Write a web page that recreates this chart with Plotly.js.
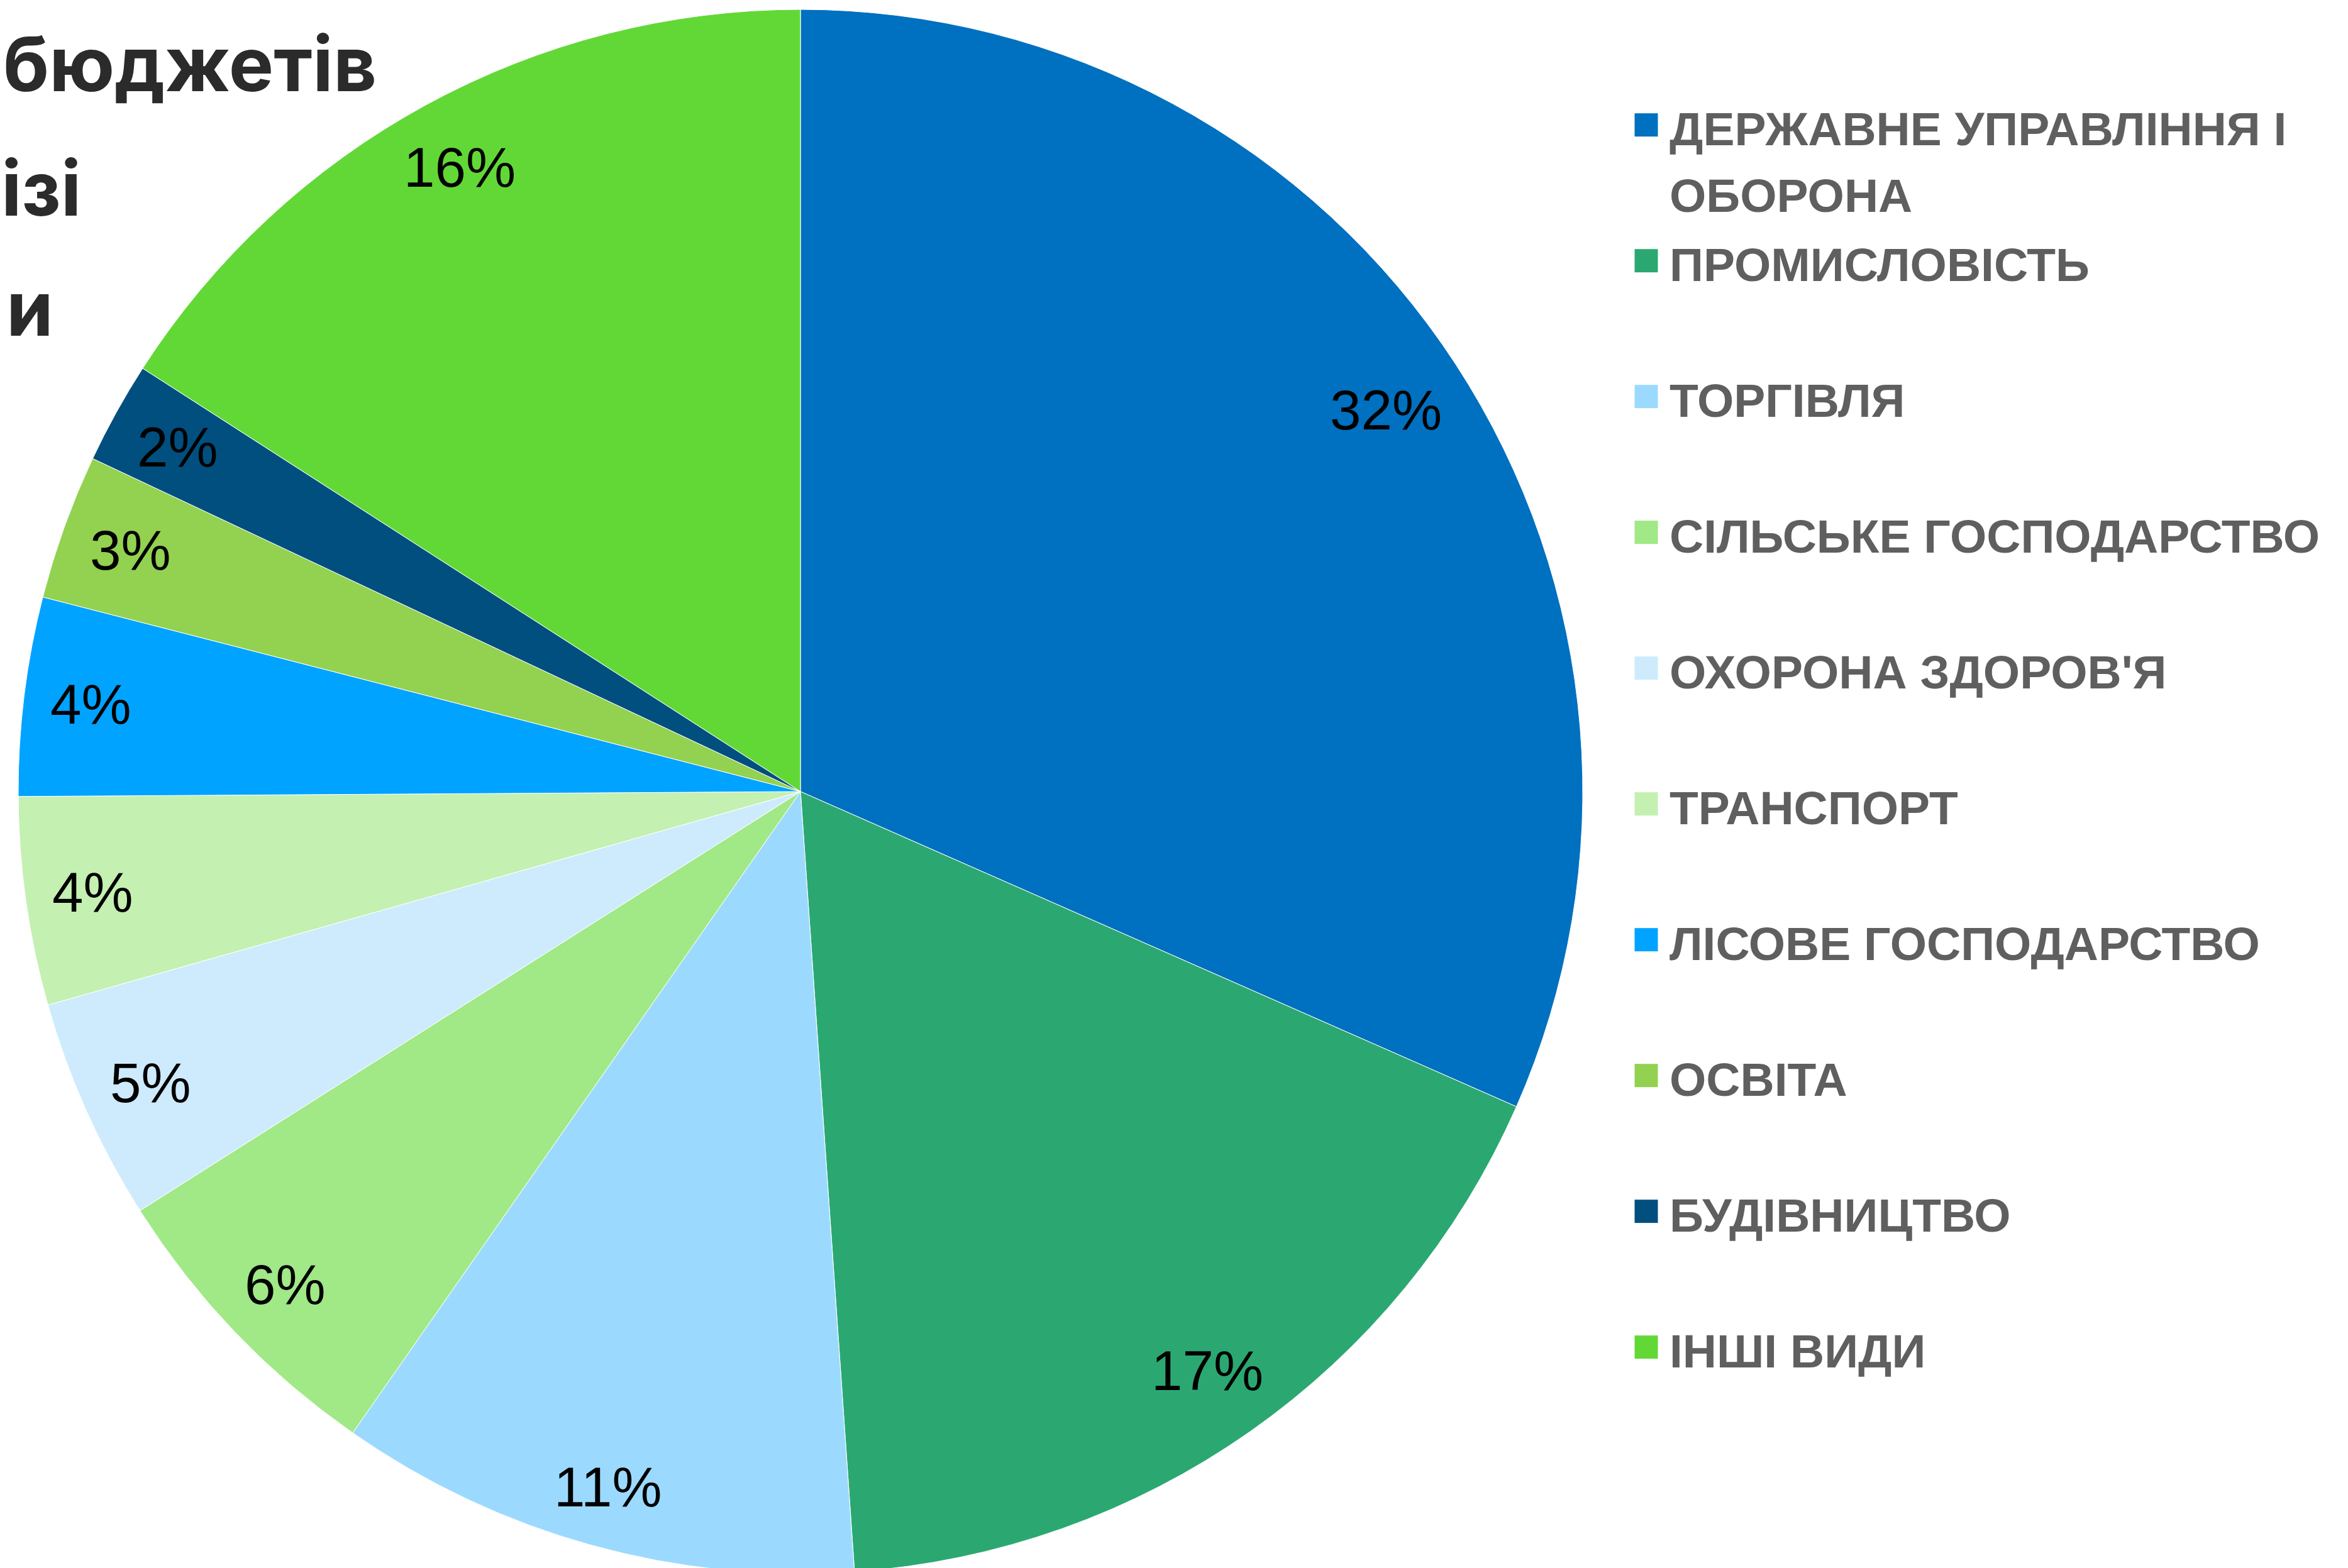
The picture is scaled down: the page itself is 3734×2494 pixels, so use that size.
<!DOCTYPE html>
<html>
<head>
<meta charset="utf-8">
<script src="https://cdn.plot.ly/plotly-3.0.1.min.js"></script>
<style>
  html, body { margin: 0; padding: 0; overflow: hidden; background: #ffffff; }
  #chart { width: 3734px; height: 2520px; }
</style>
</head>
<body>
<div id="chart"></div>
<script>
// ---- data ----
const categories = [
  'ДЕРЖАВНЕ УПРАВЛІННЯ І ОБОРОНА',
  'ПРОМИСЛОВІСТЬ',
  'ТОРГІВЛЯ',
  'СІЛЬСЬКЕ ГОСПОДАРСТВО',
  "ОХОРОНА ЗДОРОВ'Я",
  'ТРАНСПОРТ',
  'ЛІСОВЕ ГОСПОДАРСТВО',
  'ОСВІТА',
  'БУДІВНИЦТВО',
  'ІНШІ ВИДИ'
];
const legendLines = [
  ['ДЕРЖАВНЕ УПРАВЛІННЯ І', 'ОБОРОНА'],
  ['ПРОМИСЛОВІСТЬ'],
  ['ТОРГІВЛЯ'],
  ['СІЛЬСЬКЕ ГОСПОДАРСТВО'],
  ["ОХОРОНА ЗДОРОВ'Я"],
  ['ТРАНСПОРТ'],
  ['ЛІСОВЕ ГОСПОДАРСТВО'],
  ['ОСВІТА'],
  ['БУДІВНИЦТВО'],
  ['ІНШІ ВИДИ']
];
const shares = [31.6, 17.3, 10.8, 6.3, 4.6, 4.3, 4.1, 3.0, 2.1, 15.9];
const colors = ['#0070C0', '#2BA872', '#9BDAFE', '#A1E886', '#CDEBFD',
                '#C4F0B1', '#00A3FF', '#93D150', '#004F7F', '#62D837'];
const titleLines = ['бюджетів', 'ізі', 'и'];

// ---- layout constants ----
const W = 3734, H = 2520;
const domX = [29 / W, 2517 / W];
const domY = [(H - 2503) / H, (H - 15) / H];
const LABEL_SIZE = 89;

const legendText = legendLines.map(lines => {
  const parts = lines.map(l => '<span style="font-size:75px">' + l + '</span>');
  if (parts.length < 2) parts.push('\u00a0');
  return parts.join('<br>');
});

// percentage labels, placed "inside end" along each slice's mid-angle
const total = shares.reduce((a, b) => a + b, 0);
const cx = W * (domX[0] + domX[1]) / 2;
const cy = H * (1 - (domY[0] + domY[1]) / 2);
const R = Math.min(W * (domX[1] - domX[0]), H * (domY[1] - domY[0])) / 2;
const annotations = [];
let cum = 0;
shares.forEach((v) => {
  const th = 2 * Math.PI * (cum + v / 2) / total;
  cum += v;
  const txt = Math.round(v / total * 100) + '%';
  const halfW = ((txt.length - 1) * 0.556 + 0.889) * LABEL_SIZE / 2;
  const halfH = 0.4 * LABEL_SIZE;
  const rho = 0.969 * R - (Math.abs(Math.sin(th)) * halfW + Math.abs(Math.cos(th)) * halfH);
  const px = cx + rho * Math.sin(th);
  const py = cy - rho * Math.cos(th);
  annotations.push({
    x: px / W, y: 1 - py / H, xref: 'paper', yref: 'paper',
    text: txt, showarrow: false,
    xanchor: 'center', yanchor: 'middle',
    font: { family: 'Liberation Sans, Arial, sans-serif', size: LABEL_SIZE, color: '#000000' }
  });
});

// title fragments (cut off at the left edge in the original)
const titlePos = [[3, 102], [0, 299], [8, 491]];
titleLines.forEach((t, i) => {
  annotations.push({
    x: titlePos[i][0] / W, y: 1 - titlePos[i][1] / H, xref: 'paper', yref: 'paper',
    text: t, showarrow: false, xanchor: 'left', yanchor: 'middle',
    font: { family: 'Inter, Open Sans, sans-serif', size: 120, color: '#2B2B2B', weight: 700 }
  });
});

const trace = {
  type: 'pie',
  labels: legendText,
  values: shares,
  sort: false,
  direction: 'clockwise',
  rotation: 0,
  textinfo: 'none',
  hoverinfo: 'label+percent',
  marker: { colors: colors, line: { color: '#ffffff', width: 1 } },
  domain: { x: domX, y: domY }
};

const layout = {
  width: W, height: H,
  margin: { l: 0, r: 0, t: 0, b: 0, pad: 0, autoexpand: false },
  paper_bgcolor: '#ffffff',
  showlegend: true,
  legend: {
    x: 2598 / W, xanchor: 'left',
    y: 1 - 139 / H, yanchor: 'top',
    valign: 'top',
    itemwidth: 47,
    bgcolor: 'rgba(0,0,0,0)',
    borderwidth: 0,
    font: { family: 'Liberation Sans, Arial, sans-serif', size: 81.92, color: '#5F5F5F', weight: 700 }
  },
  annotations: annotations
};

Plotly.newPlot('chart', [trace], layout, { displayModeBar: false, staticPlot: true }).then(gd => {
  gd.querySelectorAll('.legendpoints path').forEach(p => {
    p.setAttribute('d', 'M-19,-19H19V19H-19Z');
    p.setAttribute('transform', 'translate(20,0)');
  });
});
</script>
</body>
</html>
